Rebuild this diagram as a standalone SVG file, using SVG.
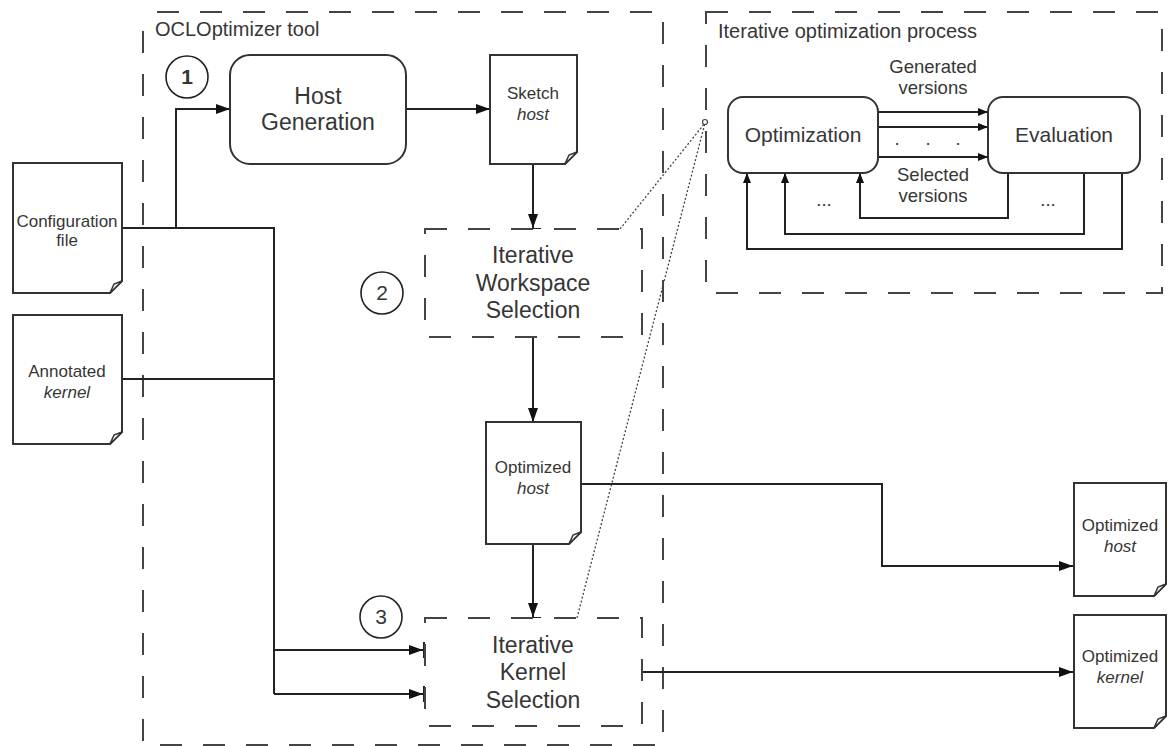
<svg xmlns="http://www.w3.org/2000/svg" width="1172" height="746" viewBox="0 0 1172 746">
  <style>
    text { font-family: "Liberation Sans", Arial, sans-serif; fill: #363636; }
    .frame { fill: none; stroke: #444; stroke-width: 2; stroke-dasharray: 22 21; }
    .step { fill: #fff; stroke: #444; stroke-width: 2; stroke-dasharray: 22 21; }
    .box { fill: #fff; stroke: #333; stroke-width: 2; }
    .doc { fill: #fff; stroke: #333; stroke-width: 2; stroke-linejoin: miter; }
    .fold { fill: #fff; stroke: #333; stroke-width: 1.5; }
    .wire { fill: none; stroke: #222; stroke-width: 2; }
    .thin { fill: none; stroke: #222; stroke-width: 2; }
    .link { fill: none; stroke: #444; stroke-width: 1.3; stroke-dasharray: 2 2; }
    .tick { stroke: #222; stroke-width: 2; }
    .num { fill: #fff; stroke: #222; stroke-width: 1.6; }
    .big { font-size: 23px; text-anchor: middle; }
    .mid { font-size: 21px; text-anchor: middle; }
    .small { font-size: 17px; text-anchor: middle; }
    .label { font-size: 18.5px; text-anchor: middle; }
    .title { font-size: 20px; }
  </style>
  <defs>
    <marker id="arrow" markerUnits="userSpaceOnUse" markerWidth="16" markerHeight="12" refX="14" refY="5" orient="auto">
      <path d="M0,0 L14,5 L0,10 z" fill="#111"/>
    </marker>
    <marker id="arrowSmall" markerUnits="userSpaceOnUse" markerWidth="12" markerHeight="10" refX="10" refY="4" orient="auto">
      <path d="M0,0 L10,4 L0,8 z" fill="#111"/>
    </marker>
  </defs>

  <!-- frames -->
  <g id="tool-frame">
    <path class="frame" d="M157,12 H663 V745 H143 V30"/>
    <text class="title" x="155" y="36">OCLOptimizer tool</text>
  </g>
  <g id="process-frame">
    <rect class="frame" x="706" y="12" width="456" height="281"/>
    <text class="title" x="718" y="38">Iterative optimization process</text>
  </g>

  <!-- connectors -->
  <g id="connectors">
    <!-- configuration file to host generation -->
    <path class="wire" d="M122,228 H176 V109 H230" marker-end="url(#arrow)"/>
    <!-- configuration file and annotated kernel bus -->
    <path class="wire" d="M122,228 H274 V694"/>
    <path class="wire" d="M122,379 H274"/>
    <path class="wire" d="M274,650 H423" marker-end="url(#arrow)"/>
    <path class="wire" d="M274,694 H423" marker-end="url(#arrow)"/>
    <line class="tick" x1="424" y1="642" x2="424" y2="658"/>
    <line class="tick" x1="424" y1="686" x2="424" y2="702"/>
    <!-- main chain -->
    <path class="wire" d="M406,109 H490" marker-end="url(#arrow)"/>
    <path class="wire" d="M533,164 V228" marker-end="url(#arrow)"/>
    <line class="tick" x1="525" y1="229" x2="541" y2="229"/>
    <path class="wire" d="M533,337 V422" marker-end="url(#arrow)"/>
    <path class="wire" d="M533,544 V617" marker-end="url(#arrow)"/>
    <line class="tick" x1="525" y1="618" x2="541" y2="618"/>
    <!-- outputs -->
    <path class="wire" d="M581,484 H882 V566 H1073" marker-end="url(#arrow)"/>
    <path class="wire" d="M642,672 H1073" marker-end="url(#arrow)"/>
    <line class="tick" x1="642" y1="664" x2="642" y2="680"/>
    <!-- detail links -->
    <path class="link" d="M620,229 L705,123"/>
    <path class="link" d="M577,618 L705,123"/>
    <circle cx="705" cy="122" r="2.5" fill="#fff" stroke="#444" stroke-width="1.2"/>
    <!-- optimization loop -->
    <path class="thin" d="M878,112 H988" marker-end="url(#arrowSmall)"/>
    <path class="thin" d="M878,127 H988" marker-end="url(#arrowSmall)"/>
    <path class="thin" d="M878,157 H988" marker-end="url(#arrowSmall)"/>
    <path class="thin" d="M1008,173 V218 H860 V173" marker-end="url(#arrowSmall)"/>
    <path class="thin" d="M1084,173 V234 H785 V173" marker-end="url(#arrowSmall)"/>
    <path class="thin" d="M1122,173 V249 H747 V173" marker-end="url(#arrowSmall)"/>
  </g>

  <!-- step numbers -->
  <g id="step-1">
    <circle class="num" cx="187" cy="77" r="21" stroke-width="2.4"/>
    <text x="187" y="84" font-size="21" font-weight="bold" text-anchor="middle">1</text>
  </g>
  <g id="step-2">
    <circle class="num" cx="382" cy="293" r="21"/>
    <text x="382" y="300" font-size="21" text-anchor="middle">2</text>
  </g>
  <g id="step-3">
    <circle class="num" cx="381" cy="617" r="21"/>
    <text x="381" y="624" font-size="21" text-anchor="middle">3</text>
  </g>

  <!-- input documents -->
  <g id="configuration-file">
    <path class="doc" d="M13,163 H122 V281 L110,293 H13 Z"/>
    <path class="fold" d="M122,281 L114,284 L110,293 Z"/>
    <text class="small" x="67" y="227" font-size="16">Configuration</text>
    <text class="small" x="67" y="246" font-size="16">file</text>
  </g>
  <g id="annotated-kernel">
    <path class="doc" d="M13,315 H122 V432 L110,444 H13 Z"/>
    <path class="fold" d="M122,432 L114,435 L110,444 Z"/>
    <text class="small" x="67" y="377">Annotated</text>
    <text class="small" x="67" y="398" font-style="italic">kernel</text>
  </g>

  <!-- tool stages -->
  <g id="host-generation">
    <rect class="box" x="230" y="55" width="176" height="109" rx="20"/>
    <text class="big" x="318" y="104" font-size="22">Host</text>
    <text class="big" x="318" y="130" font-size="22">Generation</text>
  </g>
  <g id="sketch-host">
    <path class="doc" d="M490,55 H577 V152 L565,164 H490 Z"/>
    <path class="fold" d="M577,152 L569,155 L565,164 Z"/>
    <text class="small" x="533" y="99">Sketch</text>
    <text class="small" x="533" y="120" font-style="italic">host</text>
  </g>
  <g id="workspace-selection">
    <rect class="step" x="425" y="229" width="217" height="108"/>
    <text class="big" x="533" y="263">Iterative</text>
    <text class="big" x="533" y="291">Workspace</text>
    <text class="big" x="533" y="318">Selection</text>
  </g>
  <g id="optimized-host">
    <path class="doc" d="M486,422 H581 V532 L569,544 H486 Z"/>
    <path class="fold" d="M581,532 L573,535 L569,544 Z"/>
    <text class="small" x="533" y="473">Optimized</text>
    <text class="small" x="533" y="494" font-style="italic">host</text>
  </g>
  <g id="kernel-selection">
    <rect class="step" x="425" y="618" width="217" height="108"/>
    <text class="big" x="533" y="653">Iterative</text>
    <text class="big" x="533" y="680">Kernel</text>
    <text class="big" x="533" y="708">Selection</text>
  </g>

  <!-- outputs -->
  <g id="output-host">
    <path class="doc" d="M1074,483 H1166 V584 L1154,596 H1074 Z"/>
    <path class="fold" d="M1166,584 L1158,587 L1154,596 Z"/>
    <text class="small" x="1120" y="531">Optimized</text>
    <text class="small" x="1120" y="552" font-style="italic">host</text>
  </g>
  <g id="output-kernel">
    <path class="doc" d="M1074,615 H1166 V716 L1154,728 H1074 Z"/>
    <path class="fold" d="M1166,716 L1158,719 L1154,728 Z"/>
    <text class="small" x="1120" y="662">Optimized</text>
    <text class="small" x="1120" y="683" font-style="italic">kernel</text>
  </g>

  <!-- optimization loop -->
  <g id="optimization">
    <rect class="box" x="728" y="97" width="150" height="76" rx="15"/>
    <text class="mid" x="803" y="142">Optimization</text>
  </g>
  <g id="evaluation">
    <rect class="box" x="988" y="97" width="152" height="76" rx="15"/>
    <text class="mid" x="1064" y="142">Evaluation</text>
  </g>
  <g id="loop-labels">
    <text class="label" x="933" y="73">Generated</text>
    <text class="label" x="933" y="94">versions</text>
    <text class="label" x="933" y="181">Selected</text>
    <text class="label" x="933" y="202">versions</text>
    <text class="label" x="897" y="145">.</text>
    <text class="label" x="928" y="145">.</text>
    <text class="label" x="958" y="145">.</text>
    <text class="label" x="824" y="206">...</text>
    <text class="label" x="1048" y="206">...</text>
  </g>
</svg>
